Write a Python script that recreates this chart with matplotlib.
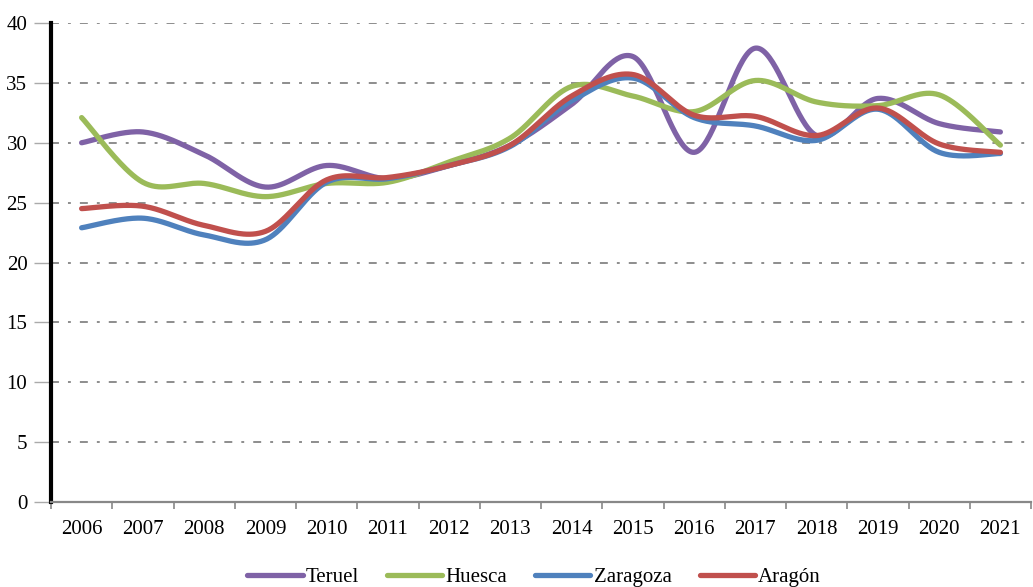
import numpy as np
import matplotlib
matplotlib.use("Agg")
import matplotlib.pyplot as plt

years = [str(y) for y in range(2006, 2022)]
teruel = [30.0, 30.9, 29.0, 26.3, 28.1, 27.0, 28.1, 29.8, 33.2, 37.2, 29.2, 37.9, 30.6, 33.7, 31.6, 30.9]
huesca = [32.1, 26.7, 26.6, 25.5, 26.6, 26.7, 28.4, 30.4, 34.7, 33.9, 32.6, 35.2, 33.4, 33.1, 34.0, 29.8]
zaragoza = [22.9, 23.7, 22.3, 21.9, 26.7, 27.0, 28.1, 29.7, 33.5, 35.4, 32.1, 31.4, 30.2, 32.8, 29.2, 29.1]
aragon = [24.5, 24.7, 23.1, 22.6, 26.9, 27.1, 28.1, 29.8, 33.9, 35.7, 32.3, 32.2, 30.6, 32.9, 29.9, 29.2]

series = [
    ("Teruel", teruel, "#7F62A6"),
    ("Huesca", huesca, "#9BBB59"),
    ("Zaragoza", zaragoza, "#4F81BD"),
    ("Aragón", aragon, "#C0504D"),
]


def smooth(xs, ys, n=40):
    """Catmull-Rom style cubic Bezier smoothing through every point."""
    xs = np.asarray(xs, float)
    ys = np.asarray(ys, float)
    px = np.concatenate([[xs[0]], xs, [xs[-1]]])
    py = np.concatenate([[ys[0]], ys, [ys[-1]]])
    outx, outy = [], []
    t = np.linspace(0, 1, n)
    for i in range(1, len(px) - 2):
        p0 = np.array([px[i - 1], py[i - 1]])
        p1 = np.array([px[i], py[i]])
        p2 = np.array([px[i + 1], py[i + 1]])
        p3 = np.array([px[i + 2], py[i + 2]])
        c1 = p1 + (p2 - p0) / 6.0
        c2 = p2 - (p3 - p1) / 6.0
        b = (((1 - t) ** 3)[:, None] * p1 + (3 * (1 - t) ** 2 * t)[:, None] * c1
             + (3 * (1 - t) * t ** 2)[:, None] * c2 + (t ** 3)[:, None] * p2)
        outx.extend(b[:, 0])
        outy.extend(b[:, 1])
    return np.array(outx), np.array(outy)


plt.rcParams["font.family"] = ["Liberation Serif", "DejaVu Serif"]
FS = 15

fig = plt.figure(figsize=(10.33, 5.87), dpi=100)
ax = fig.add_axes([51 / 1033, 1 - 502 / 587, 980 / 1033, 479 / 587])

x = np.arange(len(years))
for name, vals, col in series:
    sx, sy = smooth(x, vals)
    ax.plot(sx, sy, color=col, lw=3.8, label=name, solid_capstyle="round", zorder=3)

ax.set_xlim(-0.5, len(years) - 0.5)
ax.set_ylim(0, 40)
ax.set_yticks(range(0, 41, 5))
ax.set_xticks(x)
ax.set_xticklabels(years)
ax.set_xticks(np.arange(-0.5, len(years), 1.0), minor=True)

ax.tick_params(axis="x", which="major", length=0, pad=13, labelsize=FS)
ax.tick_params(axis="x", which="minor", length=5, width=1.2, color="#888888", direction="out")
ax.tick_params(axis="y", length=12, width=1.0, color="#aaaaaa", direction="out", pad=5, labelsize=FS)

ax.grid(axis="y", color="#858585", linestyle=(0, (4.4, 5, 1.6, 5)), linewidth=1.3, zorder=1)
ax.set_axisbelow(True)

for s in ["top", "right"]:
    ax.spines[s].set_visible(False)
ax.spines["left"].set_linewidth(3)
ax.spines["left"].set_color("black")
ax.spines["bottom"].set_linewidth(1.6)
ax.spines["bottom"].set_color("#888888")

fig.legend(loc="center", bbox_to_anchor=(534 / 1033, 1 - 577 / 587), ncol=4, frameon=False,
           fontsize=FS, handlelength=2.65, handletextpad=0.15, columnspacing=1.35,
           borderpad=0, borderaxespad=0)

fig.savefig("out.png", dpi=100)
